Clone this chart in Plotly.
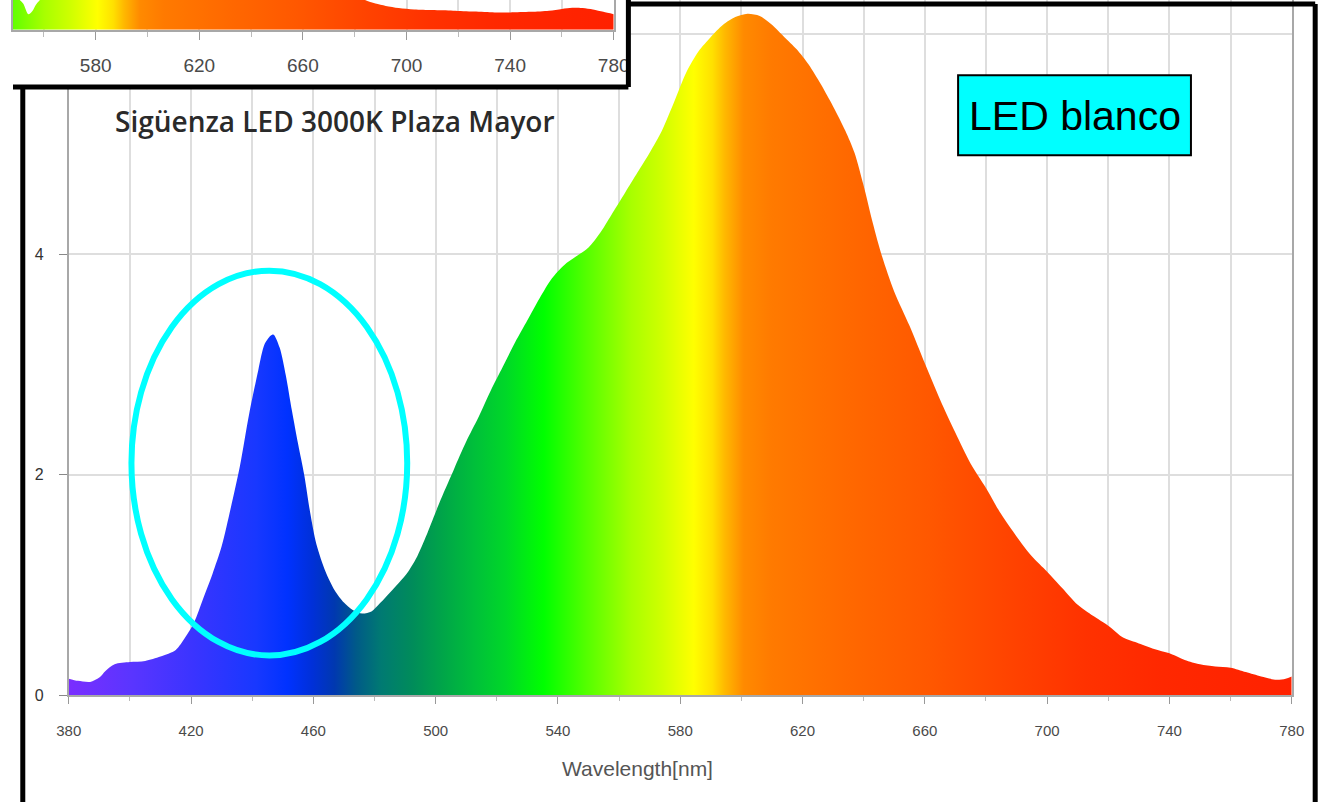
import plotly.graph_objects as go

# ---------------- data ----------------
wavelength = [380, 383, 387, 390, 392, 395, 400, 405, 410, 415, 418, 421, 424, 427, 430,
              433, 436, 439, 442, 444, 446, 447, 449, 451, 453, 455, 457, 459, 461, 464,
              467, 470, 473, 476, 479, 482, 485, 488, 491, 494, 497, 500, 503, 506, 510,
              514, 518, 522, 526, 530, 534, 538, 542, 546, 550, 554, 558, 562, 566, 570,
              574, 578, 582, 586, 590, 594, 598, 602, 606, 610, 614, 618, 622, 626, 630,
              634, 637, 640, 643, 646, 650, 655, 660, 665, 670, 675, 680, 685, 690, 695,
              700, 705, 710, 715, 720, 725, 730, 735, 740, 745, 750, 755, 760, 765, 770,
              775, 778, 780]
irradiance = [0.15, 0.13, 0.12, 0.16, 0.22, 0.28, 0.30, 0.31, 0.35, 0.41, 0.52, 0.66, 0.88, 1.10, 1.35,
              1.70, 2.08, 2.55, 2.95, 3.18, 3.26, 3.27, 3.15, 2.90, 2.58, 2.28, 2.00, 1.65, 1.37, 1.12,
              0.95, 0.84, 0.77, 0.74, 0.76, 0.84, 0.93, 1.02, 1.12, 1.26, 1.45, 1.66, 1.86, 2.05, 2.30,
              2.52, 2.76, 2.98, 3.20, 3.40, 3.60, 3.78, 3.90, 3.98, 4.06, 4.20, 4.38, 4.56, 4.74, 4.92,
              5.12, 5.38, 5.65, 5.84, 5.97, 6.08, 6.15, 6.18, 6.16, 6.08, 5.97, 5.86, 5.72, 5.54, 5.34,
              5.12, 4.92, 4.62, 4.28, 3.98, 3.66, 3.35, 3.01, 2.68, 2.38, 2.10, 1.88, 1.64, 1.44, 1.26,
              1.12, 0.97, 0.82, 0.72, 0.63, 0.52, 0.47, 0.42, 0.38, 0.32, 0.28, 0.26, 0.25, 0.21, 0.17,
              0.14, 0.15, 0.17]

# fragment of the other chart (top-left inset)
inset_wavelength = [548, 550, 552, 554, 555.5, 557, 559, 562, 570, 600, 640, 670, 680, 684,
                    688, 692, 697, 703, 710, 718, 726, 734, 740, 748, 755, 760, 764, 768,
                    772, 776, 780]
inset_irradiance = [1.15, 1.05, 0.88, 0.52, 0.62, 0.85, 1.05, 1.30, 1.60, 2.00, 2.00, 1.60, 1.20, 1.00,
                    0.88, 0.80, 0.73, 0.68, 0.66, 0.64, 0.61, 0.58, 0.58, 0.60, 0.64, 0.70, 0.74, 0.73,
                    0.68, 0.60, 0.52]

# spectral colours (nm -> colour)
color_nm = [380, 400, 420, 440, 450, 458, 465, 472, 480, 490, 500, 510, 520, 532, 545,
            560, 570, 580, 586, 590, 596, 605, 630, 655, 680, 705, 730, 780]
color_hex = ["#7a2eff", "#5a35ff", "#3a34ff", "#1838ff", "#0032ff", "#0030d8", "#0038b0",
             "#005a88", "#007a72", "#008c5a", "#00a648", "#00c03a", "#00d828", "#00ff00",
             "#50ff00", "#a8ff00", "#d0ff00", "#ffff00", "#ffe000", "#ffb800", "#ff8a00",
             "#ff7a00", "#ff6800", "#ff5800", "#ff4400", "#ff3200", "#ff2800", "#ff2000"]

x_ticks = list(range(380, 781, 40))
inset_ticks = list(range(580, 781, 40))
y_ticks = [0, 2, 4, 6]

title_text = "Sigüenza LED 3000K Plaza Mayor"
axis_title = "Wavelength[nm]"
label_text = "LED blanco"

# ---------------- layout helpers ----------------
W, H = 1340, 811
def px(x):
    return x / W
def py(y):
    return 1 - y / H

colorscale = [[(n - 380) / 400, c] for n, c in zip(color_nm, color_hex)]
grad = dict(type="horizontal", colorscale=colorscale, start=380, stop=780)

narrow = "Liberation Sans Narrow, Liberation Sans, sans-serif"
tick_font = dict(family=narrow, size=15, color="#4a4a4a")
inset_tick_font = dict(family=narrow, size=19, color="#4a4a4a")
grid_col = "#dedede"
axis_col = "#a8a8a8"

fig = go.Figure()

fig.add_trace(go.Scatter(x=wavelength, y=irradiance, mode="lines",
                         line=dict(width=0, shape="spline", smoothing=0.8),
                         fill="tozeroy", fillgradient=grad, hoverinfo="skip",
                         showlegend=False, xaxis="x", yaxis="y"))
# empty trace to create the covering subplot
fig.add_trace(go.Scatter(x=[], y=[], xaxis="x2", yaxis="y2", showlegend=False, hoverinfo="skip"))
fig.add_trace(go.Scatter(x=inset_wavelength, y=inset_irradiance, mode="lines",
                         line=dict(width=0, shape="spline", smoothing=0.8),
                         fill="tozeroy", fillgradient=grad, hoverinfo="skip",
                         showlegend=False, xaxis="x3", yaxis="y3"))

# inset x range from pixel geometry: 580 at px 84.5, 780 at px 614
inset_px_per_nm = (614 - 84.5) / 200
inset_x0 = 580 - 84.5 / inset_px_per_nm

fig.update_layout(
    width=W, height=H, margin=dict(l=0, r=0, t=0, b=0),
    paper_bgcolor="white", plot_bgcolor="white", showlegend=False,
    xaxis=dict(domain=[px(57), px(1307)], range=[380, 780], tickvals=x_ticks,
               showgrid=True, gridcolor=grid_col, gridwidth=1.5,
               minor=dict(dtick=20, tick0=380, showgrid=True, gridcolor=grid_col, gridwidth=1.5,
                          ticks="outside", ticklen=4, tickcolor="#bbbbbb"),
               showline=True, linecolor=axis_col, linewidth=2, ticks="outside", ticklen=7,
               tickcolor="#999999", tickfont=tick_font, ticklabelstandoff=14,
               zeroline=False, anchor="y", fixedrange=True),
    yaxis=dict(domain=[py(703), 1], range=[0, 703 / 111.5], tickvals=y_ticks,
               showgrid=True, gridcolor=grid_col, gridwidth=2,
               showline=True, mirror=True, linecolor=axis_col, linewidth=2,
               ticks="outside", ticklen=8, tickcolor="#888888",
               tickfont=dict(family="Liberation Sans, sans-serif", size=16, color="#333333"),
               ticklabelstandoff=12, zeroline=False, anchor="x", fixedrange=True),
    xaxis2=dict(domain=[0, px(629)], range=[0, 1], visible=False, anchor="y2", fixedrange=True),
    yaxis2=dict(domain=[py(88), 1], range=[0, 1], visible=False, anchor="x2", fixedrange=True),
    xaxis3=dict(domain=[0, px(614)], range=[inset_x0, 780], tickvals=inset_ticks,
                showgrid=True, gridcolor=grid_col, gridwidth=1.5,
                minor=dict(dtick=20, tick0=380, showgrid=True, gridcolor=grid_col, gridwidth=1.5,
                           ticks="outside", ticklen=5, tickcolor="#bbbbbb"),
                showline=True, linecolor=axis_col, linewidth=2, ticks="outside", ticklen=8,
                tickcolor="#999999", tickfont=inset_tick_font, ticklabelstandoff=10,
                zeroline=False, anchor="y3", fixedrange=True),
    yaxis3=dict(domain=[py(30), 1], range=[0, 1], showgrid=False, showticklabels=False,
                showline=True, mirror=True, linecolor=axis_col, linewidth=2, ticks="",
                zeroline=False, anchor="x3", fixedrange=True),
)

shapes = [
    # white cover behind the inset fragment
    dict(type="rect", xref="x2", yref="y2", x0=0, x1=1, y0=0, y1=1,
         fillcolor="white", line=dict(width=0), layer="below"),
    # cyan ellipse around the blue peak
    dict(type="circle", xref="x", yref="y", x0=400.5, x1=490.7, y0=0.36, y1=3.85,
         line=dict(color="#00ffff", width=6), layer="above"),
    # label box
    dict(type="rect", xref="paper", yref="paper", x0=px(966), x1=px(1204), y0=py(157), y1=py(76),
         fillcolor="#00ffff", line=dict(color="black", width=2), layer="above"),
]
# black frame lines
frame = [((629, 0), (629, 88)), ((0, 88), (629, 88)),
         ((10, 88), (10, 811)), ((629, 4), (1331, 4)), ((1331, 4), (1331, 811))]
for (ax, ay), (bx, by) in frame:
    shapes.append(dict(type="line", xref="paper", yref="paper", x0=px(ax), y0=py(ay),
                       x1=px(bx), y1=py(by), line=dict(color="black", width=5), layer="above"))
fig.update_layout(shapes=shapes)

fig.add_annotation(x=px(329), y=py(122), xref="paper", yref="paper", text=title_text,
                   showarrow=False, xanchor="center", yanchor="middle",
                   font=dict(family="Open Sans, sans-serif", size=28, color="#2a2a2a", weight=600))
fig.add_annotation(x=px(638), y=py(777), xref="paper", yref="paper", text=axis_title,
                   showarrow=False, xanchor="center", yanchor="middle",
                   font=dict(family="Liberation Sans, sans-serif", size=21, color="#555555"))
fig.add_annotation(x=px(1085), y=py(117), xref="paper", yref="paper", text=label_text,
                   showarrow=False, xanchor="center", yanchor="middle",
                   font=dict(family="Liberation Sans, sans-serif", size=41, color="black"))

fig.write_html("out.html", config=dict(displayModeBar=False))
